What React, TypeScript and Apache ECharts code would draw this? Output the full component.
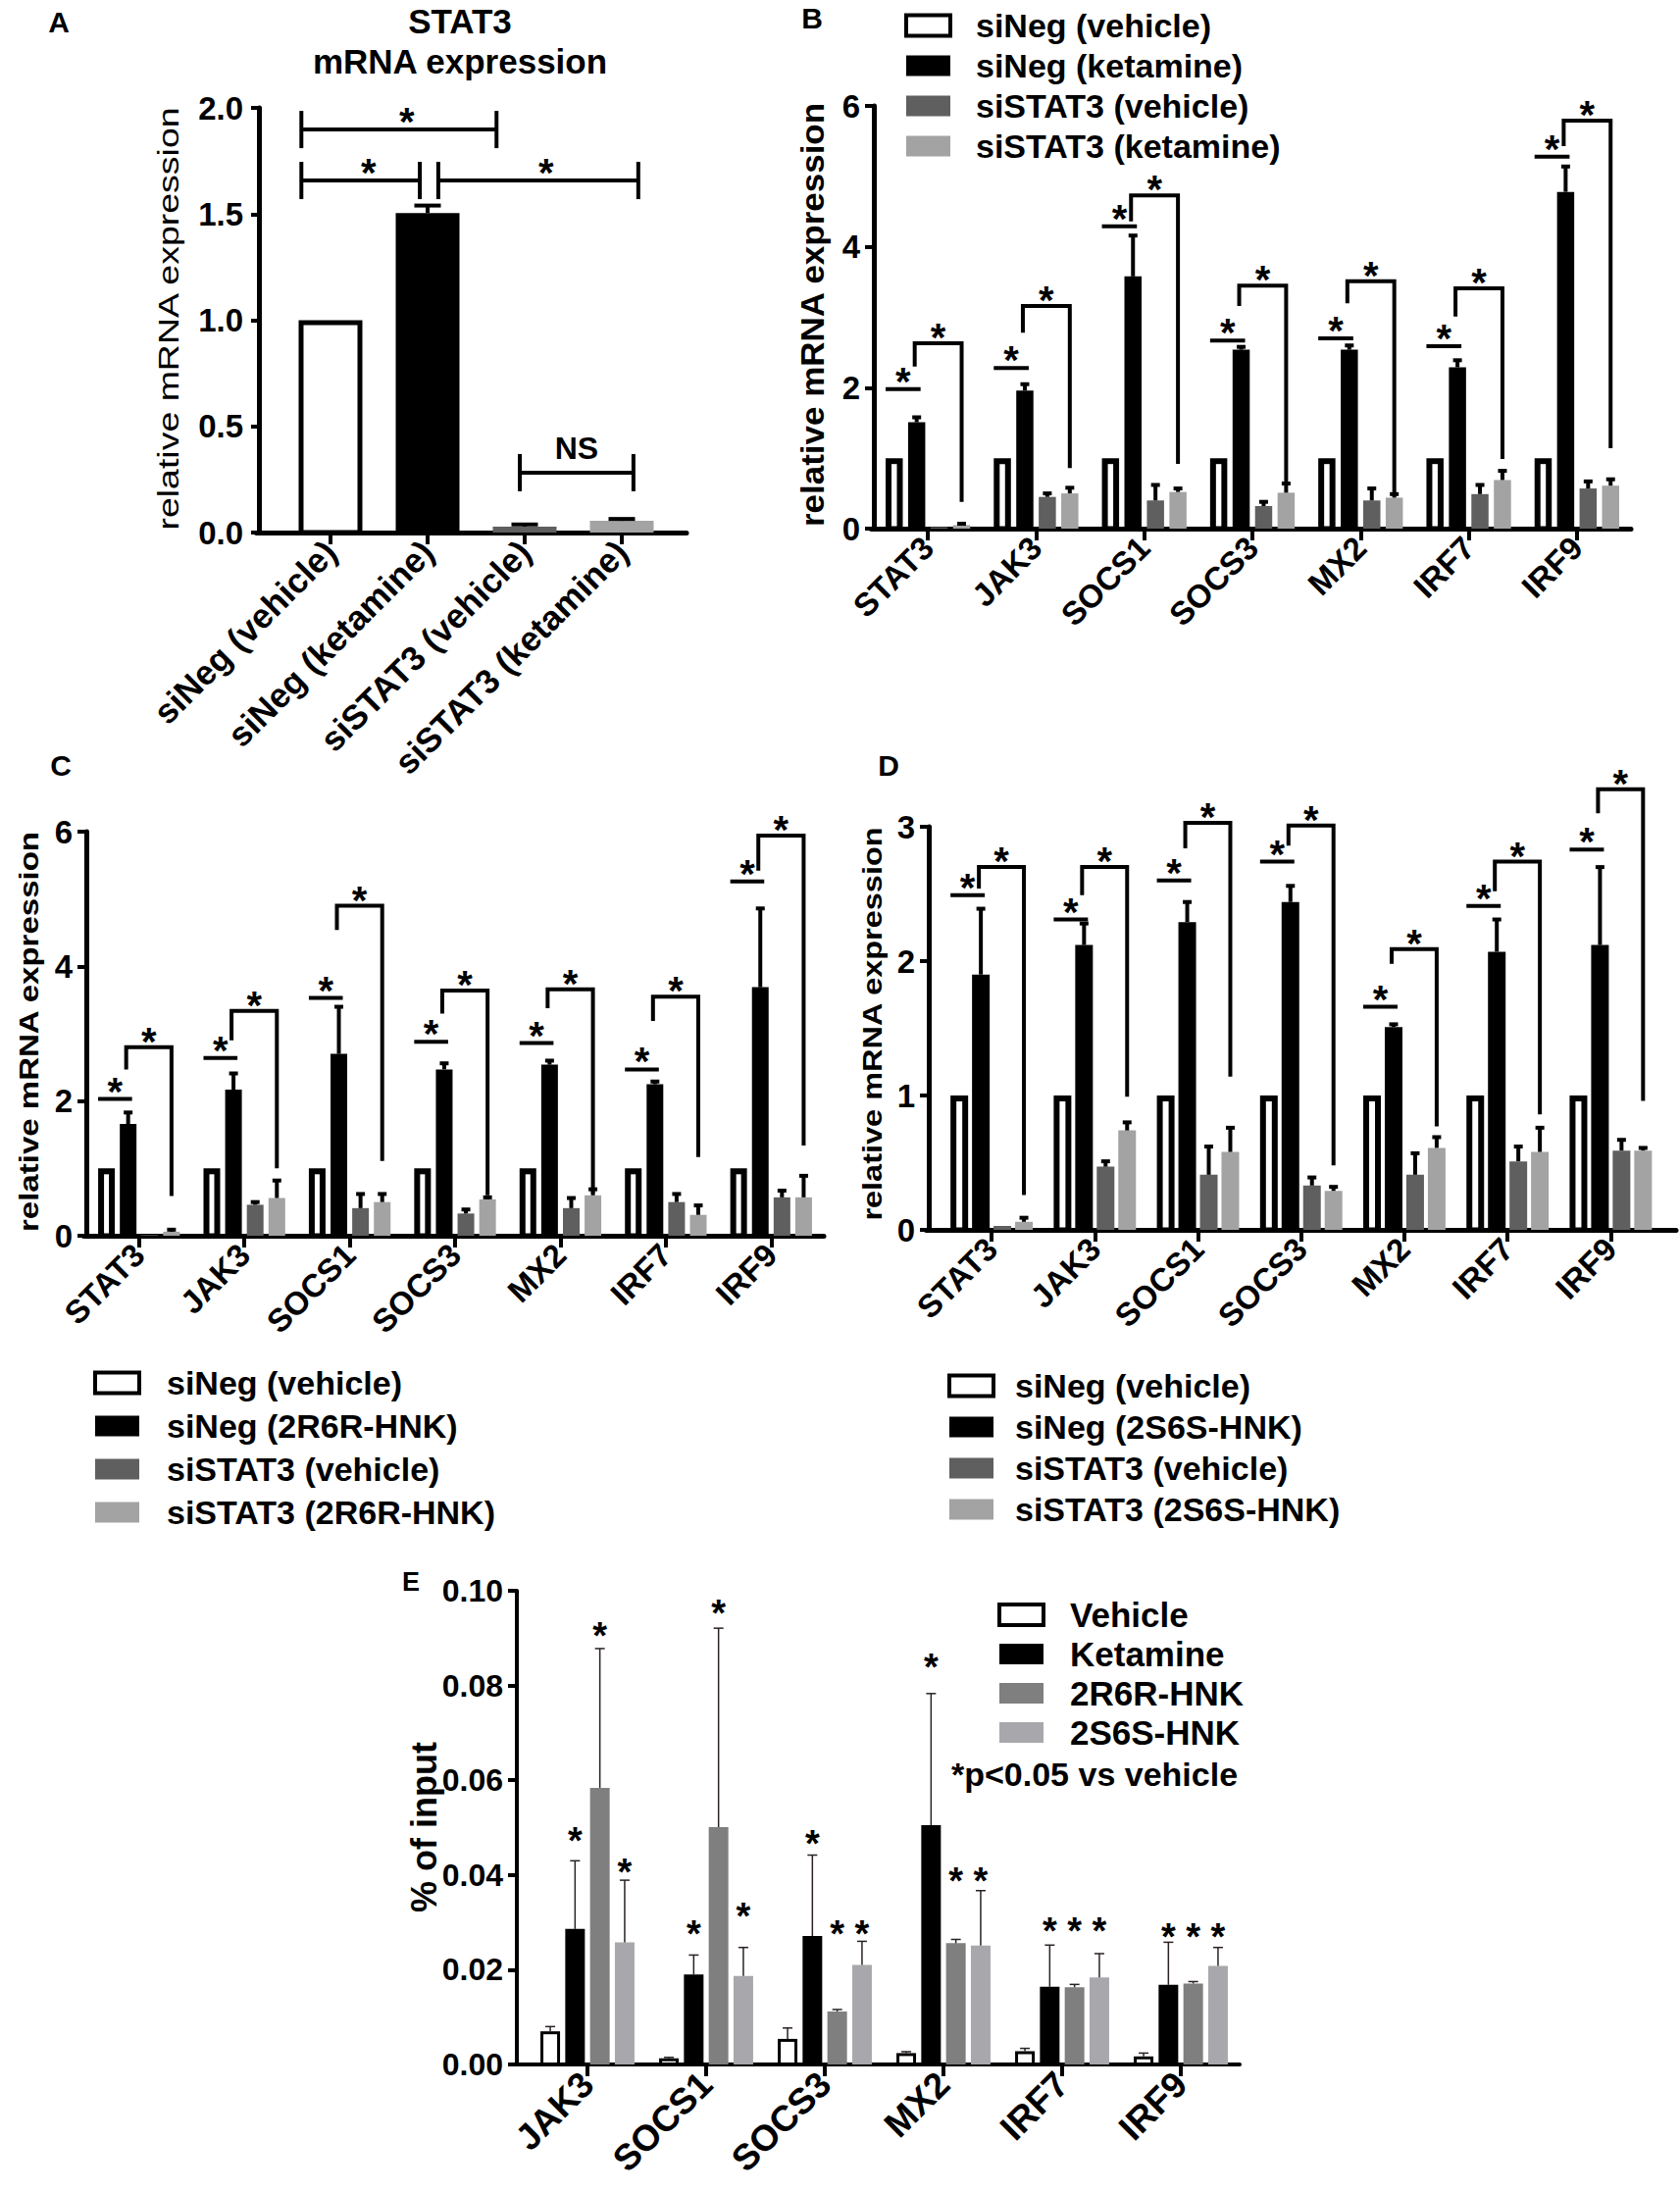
import React, { useEffect, useRef } from "react";
import * as echarts from "echarts";

const FONT = "'Liberation Sans', Arial, Helvetica, sans-serif";
const BLACK = "#000000";
const DARK = "#5f5f5f";
const LIGHT = "#a3a3a3";
const MID = "#7f7f7f";
const LIGHT2 = "#a8a8ac";

// ---------------- Panel A ----------------
const aCategories = ["siNeg (vehicle)", "siNeg (ketamine)", "siSTAT3 (vehicle)", "siSTAT3 (ketamine)"];
const aValues = [1.0, 1.505, 0.028, 0.055];
const aErrorTops = [1.0, 1.54, 0.038, 0.064];
const aBracketFrom = [-0.3, -0.3, 1.11, 1.95];
const aBracketTo = [1.71, 0.92, 3.17, 3.12];
const aBracketY = [1.898, 1.658, 1.658, 0.282];
const aBracketLabel = ["*", "*", "*", "NS"];

// ---------------- Panels B, C, D ----------------
const geneCategories = ["STAT3", "JAK3", "SOCS1", "SOCS3", "MX2", "IRF7", "IRF9"];
const vehicleOnes = [1, 1, 1, 1, 1, 1, 1];

const bNames = ["siNeg (vehicle)", "siNeg (ketamine)", "siSTAT3 (vehicle)", "siSTAT3 (ketamine)"];
const bSiNegKet = [1.51, 1.96, 3.58, 2.54, 2.54, 2.29, 4.78];
const bSiNegKetTop = [1.58, 2.05, 4.16, 2.58, 2.6, 2.39, 5.14];
const bSiStatVeh = [0.02, 0.45, 0.4, 0.32, 0.4, 0.49, 0.57];
const bSiStatVehTop = [0.02, 0.5, 0.62, 0.38, 0.57, 0.62, 0.67];
const bSiStatKet = [0.05, 0.5, 0.52, 0.51, 0.44, 0.69, 0.61];
const bSiStatKetTop = [0.07, 0.58, 0.57, 0.64, 0.49, 0.82, 0.7];
const bLine1 = [1.98, 2.28, 4.29, 2.67, 2.7, 2.59, 5.28];
const bLegLow = [2.3, 2.78, 4.36, 3.16, 3.2, 3.01, 5.43];
const bBracketTop = [2.63, 3.16, 4.73, 3.45, 3.51, 3.41, 5.79];
const bRightEnd = [0.38, 0.86, 0.92, 0.62, 0.49, 0.99, 1.14];

const cNames = ["siNeg (vehicle)", "siNeg (2R6R-HNK)", "siSTAT3 (vehicle)", "siSTAT3 (2R6R-HNK)"];
const cSiNegTrt = [1.66, 2.17, 2.7, 2.47, 2.54, 2.25, 3.69];
const cSiNegTrtTop = [1.83, 2.41, 3.4, 2.56, 2.6, 2.29, 4.86];
const cSiStatVeh = [0.01, 0.46, 0.41, 0.33, 0.41, 0.5, 0.57];
const cSiStatVehTop = [0.01, 0.5, 0.62, 0.39, 0.56, 0.62, 0.67];
const cSiStatTrt = [0.06, 0.56, 0.5, 0.54, 0.6, 0.31, 0.57];
const cSiStatTrtTop = [0.09, 0.82, 0.62, 0.57, 0.69, 0.45, 0.89];
const cLine1 = [2.03, 2.64, 3.53, 2.88, 2.86, 2.47, 5.26];
const cLegLow = [2.47, 2.9, 4.54, 3.3, 3.38, 3.19, 5.42];
const cBracketTop = [2.8, 3.34, 4.9, 3.64, 3.66, 3.55, 5.94];
const cRightEnd = [0.59, 1.0, 1.11, 0.6, 0.63, 1.17, 1.34];

const dNames = ["siNeg (vehicle)", "siNeg (2S6S-HNK)", "siSTAT3 (vehicle)", "siSTAT3 (2S6S-HNK)"];
const dSiNegTrt = [1.9, 2.12, 2.29, 2.44, 1.51, 2.07, 2.12];
const dSiNegTrtTop = [2.39, 2.28, 2.44, 2.56, 1.53, 2.31, 2.7];
const dSiStatVeh = [0.03, 0.47, 0.41, 0.33, 0.41, 0.51, 0.59];
const dSiStatVehTop = [0.03, 0.51, 0.62, 0.39, 0.57, 0.62, 0.67];
const dSiStatTrt = [0.06, 0.74, 0.58, 0.29, 0.61, 0.58, 0.59];
const dSiStatTrtTop = [0.09, 0.8, 0.76, 0.32, 0.69, 0.76, 0.61];
const dLine1 = [2.49, 2.31, 2.6, 2.74, 1.66, 2.41, 2.83];
const dLegLow = [2.54, 2.49, 2.84, 2.86, 1.98, 2.52, 3.1];
const dBracketTop = [2.7, 2.7, 3.03, 3.01, 2.09, 2.74, 3.28];
const dRightEnd = [0.26, 0.99, 1.14, 0.48, 0.77, 0.86, 0.96];

// ---------------- Panel E ----------------
const eCategories = ["JAK3", "SOCS1", "SOCS3", "MX2", "IRF7", "IRF9"];
const eNames = ["Vehicle", "Ketamine", "2R6R-HNK", "2S6S-HNK"];
const eVehicle = [0.007, 0.0013, 0.0054, 0.0024, 0.0028, 0.0017];
const eVehicleTop = [0.008, 0.0015, 0.0077, 0.0027, 0.0034, 0.0024];
const eKetamine = [0.0286, 0.019, 0.0271, 0.0505, 0.0164, 0.0168];
const eKetamineTop = [0.043, 0.0231, 0.0442, 0.0783, 0.0252, 0.0258];
const e2R6R = [0.0584, 0.0501, 0.0112, 0.0256, 0.0163, 0.0171];
const e2R6RTop = [0.0878, 0.0921, 0.0116, 0.0264, 0.0169, 0.0175];
const e2S6S = [0.0258, 0.0187, 0.021, 0.0251, 0.0184, 0.0208];
const e2S6STop = [0.0389, 0.0247, 0.026, 0.0367, 0.0234, 0.0247];
const eStarKetamine = [0.0486, 0.0289, 0.0481, 0.0853, 0.0297, 0.0284];
const eStar2R6R = [0.0919, 0.0967, 0.0289, 0.0402, 0.0297, 0.0284];
const eStar2S6S = [0.042, 0.0328, 0.0289, 0.0402, 0.0297, 0.0284];

// ---------------- helpers ----------------
function centersFor(n: number, w: number, gapPct: number): number[] {
  const total = n * w + (n - 1) * w * gapPct;
  const out: number[] = [];
  let off = -total / 2;
  for (let i = 0; i < n; i++) {
    out.push(off + w / 2);
    off += w * (1 + gapPct);
  }
  return out;
}

function starText(x: number, y: number, size: number) {
  return {
    type: "text",
    x,
    y,
    style: { text: "*", fill: BLACK, fontSize: size, fontWeight: "bold", fontFamily: FONT, align: "center", verticalAlign: "middle" },
  };
}

function buildPanel(opt: any, P: any) {
  const L = P.layout;
  const gi = opt.grid.length;
  const h = L.bottom - L.top;
  opt.grid.push({ left: L.dataLeft, top: L.top, width: L.dataRight - L.dataLeft, height: h });
  opt.grid.push({ left: L.frameLeft - L.axisW / 2, top: L.top, width: L.frameRight - L.frameLeft + L.axisW / 2, height: h });
  const xi = opt.xAxis.length;
  const yi = opt.yAxis.length;
  const axisLineStyle = { color: BLACK, width: L.axisW };
  opt.xAxis.push({
    type: "category",
    gridIndex: gi,
    data: P.categories,
    axisLine: { show: false },
    axisTick: { show: true, alignWithLabel: true, interval: 0, length: L.xTickLen, lineStyle: { color: BLACK, width: 4 } },
    axisLabel: { interval: 0, rotate: 45, margin: L.xLabelMargin, color: BLACK, fontFamily: FONT, fontWeight: "bold", fontSize: L.xLabelSize },
    splitLine: { show: false },
  });
  opt.xAxis.push({
    type: "value",
    gridIndex: gi + 1,
    min: 0,
    max: 1,
    axisLine: { show: true, onZero: false, lineStyle: axisLineStyle },
    axisTick: { show: false },
    axisLabel: { show: false },
    splitLine: { show: false },
  });
  opt.yAxis.push({
    type: "value",
    gridIndex: gi,
    min: 0,
    max: P.yMax,
    interval: P.yInterval,
    offset: L.dataLeft - L.frameLeft,
    axisLine: { show: true, lineStyle: axisLineStyle },
    axisTick: { show: true, length: L.yTickLen, lineStyle: { color: BLACK, width: 4 } },
    axisLabel: {
      color: BLACK,
      fontFamily: FONT,
      fontWeight: "bold",
      fontSize: L.yLabelSize,
      margin: L.yLabelMargin,
      formatter: (v: number) => v.toFixed(P.yDecimals),
    },
    splitLine: { show: false },
  });
  opt.yAxis.push({ type: "value", gridIndex: gi + 1, min: 0, max: 1, show: false });

  const n = P.series.length;
  const centers = centersFor(n, L.barW, L.barGap);

  P.series.forEach((s: any) => {
    opt.series.push({
      type: "bar",
      name: s.name,
      xAxisIndex: xi,
      yAxisIndex: yi,
      barWidth: L.barW,
      barGap: `${L.barGap * 100}%`,
      silent: true,
      data: s.values.map((v: number, k: number) => ({
        value: v,
        itemStyle: { color: Array.isArray(s.color) ? s.color[k] : s.color },
      })),
    });
  });

  // error bars + hollow interiors
  const meta: any[] = [];
  P.series.forEach((s: any, si: number) => s.values.forEach((_v: number, k: number) => meta.push({ si, k })));
  opt.series.push({
    type: "custom",
    xAxisIndex: xi,
    yAxisIndex: yi,
    clip: false,
    silent: true,
    z: 5,
    data: meta.map((m) => [m.k, P.series[m.si].tops[m.k]]),
    encode: { x: 0, y: 1 },
    renderItem: (params: any, api: any) => {
      const m = meta[params.dataIndex];
      const s = P.series[m.si];
      const v = s.values[m.k];
      const t = s.tops[m.k];
      const base = api.coord([m.k, 0]);
      const cx = base[0] + centers[m.si];
      const yv = api.coord([m.k, v])[1];
      const children: any[] = [];
      const hollow = Array.isArray(s.hollow) ? s.hollow[m.k] : s.hollow;
      if (hollow) {
        children.push({
          type: "rect",
          shape: {
            x: cx - L.barW / 2 + L.wall,
            y: yv + L.wall,
            width: L.barW - 2 * L.wall,
            height: Math.max(0, base[1] - L.axisW / 2 - (yv + L.wall)),
          },
          style: { fill: "#ffffff" },
        });
      }
      if (t > v + 1e-9) {
        const yt = api.coord([m.k, t])[1];
        children.push({ type: "line", shape: { x1: cx, y1: yv, x2: cx, y2: yt }, style: { stroke: L.errColor, lineWidth: L.errW } });
        children.push({
          type: "line",
          shape: { x1: cx - L.cap / 2, y1: yt, x2: cx + L.cap / 2, y2: yt },
          style: { stroke: L.errColor, lineWidth: L.errW },
        });
      }
      return { type: "group", children };
    },
  });

  if (P.legend) {
    const G = P.legend;
    opt.legend.push({
      orient: "vertical",
      left: G.left,
      top: G.top,
      itemWidth: 45,
      itemHeight: 21,
      itemGap: G.gap,
      icon: "rect",
      selectedMode: false,
      textStyle: {
        fontFamily: FONT,
        fontWeight: "bold",
        fontSize: G.size,
        color: BLACK,
        lineHeight: G.size,
        padding: [0, 0, 0, G.pad],
      },
      data: P.series.map((s: any) =>
        s.hollow
          ? { name: s.name, itemStyle: { color: "#ffffff", borderColor: BLACK, borderWidth: 4 } }
          : { name: s.name, itemStyle: { color: s.color } }
      ),
    });
  }

  return { xi, yi, centers };
}

function addGroupBrackets(opt: any, P: any, ax: any, br: any) {
  const L = P.layout;
  const c = ax.centers;
  opt.series.push({
    type: "custom",
    xAxisIndex: ax.xi,
    yAxisIndex: ax.yi,
    clip: false,
    silent: true,
    z: 6,
    data: P.categories.map((_c: string, k: number) => [k, br.top[k]]),
    encode: { x: 0, y: 1 },
    renderItem: (params: any, api: any) => {
      const k = params.dataIndex;
      const cx = api.coord([k, 0])[0];
      const Y = (v: number) => api.coord([k, v])[1];
      const y1 = Y(br.line1[k]);
      const yl = Y(br.legLow[k]);
      const yh = Y(br.top[k]);
      const yr = Y(br.rightEnd[k]);
      const xa = cx + c[0] - L.barW / 2;
      const xb = cx + c[1] - 2;
      const xc = cx + c[3];
      const st = { stroke: BLACK, lineWidth: 4, fill: "none" };
      return {
        type: "group",
        children: [
          { type: "line", shape: { x1: xa, y1, x2: xb + 6, y2: y1 }, style: st },
          { type: "polyline", shape: { points: [[xb, yl], [xb, yh], [xc, yh], [xc, yr]] }, style: st },
          starText((xa + xb + 6) / 2, y1 - 8, 40),
          starText((xb + xc) / 2, yh - 6, 40),
        ],
      };
    },
  });
}

function buildOption() {
  const opt: any = {
    animation: false,
    backgroundColor: "#ffffff",
    grid: [],
    xAxis: [],
    yAxis: [],
    series: [],
    legend: [],
    graphic: [],
  };

  // ---------- A ----------
  const PA = {
    categories: aCategories,
    yMax: 2,
    yInterval: 0.5,
    yDecimals: 1,
    series: [
      {
        name: "STAT3 mRNA",
        values: aValues,
        tops: aErrorTops,
        color: [BLACK, BLACK, DARK, LIGHT],
        hollow: [true, false, false, false],
      },
    ],
    layout: {
      frameLeft: 264, frameRight: 700, dataLeft: 287.5, dataRight: 683.5, top: 110, bottom: 543,
      axisW: 5, barW: 65, barGap: 0.3, wall: 5, cap: 27, errW: 4, errColor: BLACK,
      yTickLen: 8, yLabelSize: 33, yLabelMargin: 16, xLabelSize: 35, xLabelMargin: 14, xTickLen: 12,
    },
  };
  const axA = buildPanel(opt, PA);
  opt.series.push({
    type: "custom",
    xAxisIndex: axA.xi,
    yAxisIndex: axA.yi,
    clip: false,
    silent: true,
    z: 6,
    data: aBracketY.map((y) => [0, y]),
    encode: { x: 0, y: 1 },
    renderItem: (params: any, api: any) => {
      const i = params.dataIndex;
      const band = api.size([1, 0])[0];
      const p0 = api.coord([0, aBracketY[i]]);
      const x1 = p0[0] + aBracketFrom[i] * band;
      const x2 = p0[0] + aBracketTo[i] * band;
      const y = p0[1];
      const st = { stroke: BLACK, lineWidth: 4 };
      const label = aBracketLabel[i];
      return {
        type: "group",
        children: [
          { type: "line", shape: { x1, y1: y, x2, y2: y }, style: st },
          { type: "line", shape: { x1, y1: y - 19, x2: x1, y2: y + 19 }, style: st },
          { type: "line", shape: { x1: x2, y1: y - 19, x2, y2: y + 19 }, style: st },
          label === "*"
            ? starText((x1 + x2) / 2 + 8, y - 8, 40)
            : {
                type: "text",
                x: (x1 + x2) / 2,
                y: y - 25,
                style: { text: label, fill: BLACK, fontSize: 32, fontWeight: "bold", fontFamily: FONT, align: "center", verticalAlign: "middle" },
              },
        ],
      };
    },
  });

  // ---------- B ----------
  const PB = {
    categories: geneCategories,
    yMax: 6,
    yInterval: 2,
    yDecimals: 0,
    series: [
      { name: bNames[0], values: vehicleOnes, tops: vehicleOnes, color: BLACK, hollow: true },
      { name: bNames[1], values: bSiNegKet, tops: bSiNegKetTop, color: BLACK, hollow: false },
      { name: bNames[2], values: bSiStatVeh, tops: bSiStatVehTop, color: DARK, hollow: false },
      { name: bNames[3], values: bSiStatKet, tops: bSiStatKetTop, color: LIGHT, hollow: false },
    ],
    layout: {
      frameLeft: 891, frameRight: 1663, dataLeft: 891, dataRight: 1663, top: 108, bottom: 539,
      axisW: 5, barW: 17.5, barGap: 0.31, wall: 6, cap: 9, errW: 4, errColor: BLACK,
      yTickLen: 9, yLabelSize: 33, yLabelMargin: 14, xLabelSize: 33, xLabelMargin: 14, xTickLen: 12,
    },
    legend: { left: 917, top: 4, gap: 7, size: 34, pad: 21 },
  };
  const axB = buildPanel(opt, PB);
  addGroupBrackets(opt, PB, axB, { line1: bLine1, legLow: bLegLow, top: bBracketTop, rightEnd: bRightEnd });

  // ---------- C ----------
  const PC = {
    categories: geneCategories,
    yMax: 6,
    yInterval: 2,
    yDecimals: 0,
    series: [
      { name: cNames[0], values: vehicleOnes, tops: vehicleOnes, color: BLACK, hollow: true },
      { name: cNames[1], values: cSiNegTrt, tops: cSiNegTrtTop, color: BLACK, hollow: false },
      { name: cNames[2], values: cSiStatVeh, tops: cSiStatVehTop, color: DARK, hollow: false },
      { name: cNames[3], values: cSiStatTrt, tops: cSiStatTrtTop, color: LIGHT, hollow: false },
    ],
    layout: {
      frameLeft: 88, frameRight: 840, dataLeft: 88, dataRight: 840, top: 848, bottom: 1260,
      axisW: 5, barW: 17, barGap: 0.3, wall: 6, cap: 9, errW: 4, errColor: BLACK,
      yTickLen: 9, yLabelSize: 33, yLabelMargin: 14, xLabelSize: 33, xLabelMargin: 14, xTickLen: 12,
    },
    legend: { left: 90, top: 1388, gap: 10, size: 34, pad: 23 },
  };
  const axC = buildPanel(opt, PC);
  addGroupBrackets(opt, PC, axC, { line1: cLine1, legLow: cLegLow, top: cBracketTop, rightEnd: cRightEnd });

  // ---------- D ----------
  const PD = {
    categories: geneCategories,
    yMax: 3,
    yInterval: 1,
    yDecimals: 0,
    series: [
      { name: dNames[0], values: vehicleOnes, tops: vehicleOnes, color: BLACK, hollow: true },
      { name: dNames[1], values: dSiNegTrt, tops: dSiNegTrtTop, color: BLACK, hollow: false },
      { name: dNames[2], values: dSiStatVeh, tops: dSiStatVehTop, color: DARK, hollow: false },
      { name: dNames[3], values: dSiStatTrt, tops: dSiStatTrtTop, color: LIGHT, hollow: false },
    ],
    layout: {
      frameLeft: 947, frameRight: 1709, dataLeft: 958.5, dataRight: 1695, top: 843, bottom: 1254,
      axisW: 5, barW: 18, barGap: 0.22, wall: 6, cap: 9, errW: 4, errColor: BLACK,
      yTickLen: 9, yLabelSize: 33, yLabelMargin: 14, xLabelSize: 33, xLabelMargin: 14, xTickLen: 12,
    },
    legend: { left: 961, top: 1391, gap: 8, size: 34, pad: 17 },
  };
  const axD = buildPanel(opt, PD);
  addGroupBrackets(opt, PD, axD, { line1: dLine1, legLow: dLegLow, top: dBracketTop, rightEnd: dRightEnd });

  // ---------- E ----------
  const PE = {
    categories: eCategories,
    yMax: 0.1,
    yInterval: 0.02,
    yDecimals: 2,
    series: [
      { name: eNames[0], values: eVehicle, tops: eVehicleTop, color: BLACK, hollow: true },
      { name: eNames[1], values: eKetamine, tops: eKetamineTop, color: BLACK, hollow: false },
      { name: eNames[2], values: e2R6R, tops: e2R6RTop, color: MID, hollow: false },
      { name: eNames[3], values: e2S6S, tops: e2S6STop, color: LIGHT2, hollow: false },
    ],
    layout: {
      frameLeft: 527, frameRight: 1264, dataLeft: 538.5, dataRight: 1264.5, top: 1622, bottom: 2105,
      axisW: 4, barW: 20, barGap: 0.265, wall: 3, cap: 10, errW: 1.5, errColor: "#2a2222",
      yTickLen: 9, yLabelSize: 32, yLabelMargin: 14, xLabelSize: 37, xLabelMargin: 14, xTickLen: 12,
    },
    legend: { left: 1012, top: 1624, gap: 5, size: 35, pad: 22 },
  };
  const axE = buildPanel(opt, PE);
  const eStarSets = [null, eStarKetamine, eStar2R6R, eStar2S6S];
  const eStarMeta: any[] = [];
  eStarSets.forEach((arr, si) => {
    if (arr) arr.forEach((v: number, k: number) => eStarMeta.push({ si, k, v }));
  });
  opt.series.push({
    type: "custom",
    xAxisIndex: axE.xi,
    yAxisIndex: axE.yi,
    clip: false,
    silent: true,
    z: 6,
    data: eStarMeta.map((m) => [m.k, m.v]),
    encode: { x: 0, y: 1 },
    renderItem: (params: any, api: any) => {
      const m = eStarMeta[params.dataIndex];
      const p = api.coord([m.k, m.v]);
      return starText(p[0] + axE.centers[m.si], p[1] + 7, 38);
    },
  });

  // ---------- graphic texts ----------
  const letter = (t: string, x: number, y: number, size = 30) => ({
    type: "text",
    x,
    y,
    style: { text: t, fill: BLACK, fontSize: size, fontWeight: "bold", fontFamily: FONT, align: "center", verticalAlign: "middle" },
  });
  const yTitle = (t: string, x: number, y: number, size: number, weight: string, sx: number) => ({
    type: "text",
    x,
    y,
    rotation: Math.PI / 2,
    scaleX: sx,
    style: { text: t, fill: BLACK, fontSize: size, fontWeight: weight, fontFamily: FONT, align: "center", verticalAlign: "middle" },
  });
  opt.graphic = [
    letter("A", 60, 22),
    letter("B", 828, 18),
    letter("C", 62, 780),
    letter("D", 906, 780),
    letter("E", 419, 1613, 27),
    letter("STAT3", 469, 21, 35),
    letter("mRNA expression", 469, 62, 35),
    yTitle("relative mRNA expression", 171, 325, 30, "normal", 1.25),
    yTitle("relative mRNA expression", 828, 321, 33, "bold", 1.06),
    yTitle("relative mRNA expression", 29, 1052, 28, "bold", 1.18),
    yTitle("relative mRNA expression", 889, 1044, 28, "bold", 1.16),
    yTitle("% of input", 432, 1863, 36, "bold", 1.0),
    {
      type: "text",
      x: 970,
      y: 1809,
      style: { text: "*p<0.05 vs vehicle", fill: BLACK, fontSize: 34, fontWeight: "bold", fontFamily: FONT, align: "left", verticalAlign: "middle" },
    },
  ];
  return opt;
}

export default function App() {
  const ref = useRef<HTMLDivElement>(null);
  useEffect(() => {
    if (!ref.current) return;
    const chart = echarts.init(ref.current, undefined, { renderer: "svg" });
    chart.setOption(buildOption());
    return () => chart.dispose();
  }, []);
  return (
    <div
      ref={ref}
      style={{ position: "absolute", left: 0, top: 0, width: 1713, height: 2233, background: "#ffffff" }}
    />
  );
}
